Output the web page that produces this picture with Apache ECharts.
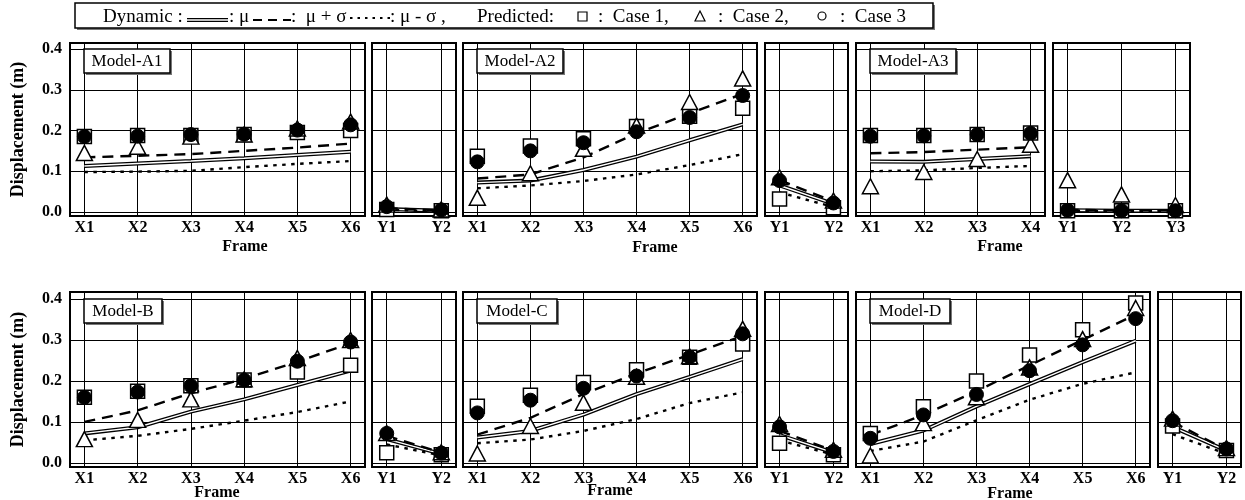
<!DOCTYPE html>
<html>
<head>
<meta charset="utf-8">
<script src="https://cdn.jsdelivr.net/npm/echarts@6/dist/echarts.min.js"></script>
<style>html,body{margin:0;padding:0;background:#fff}#c{width:1245px;height:500px}</style>
</head>
<body>
<div id="c"></div>
<script>
// ---------- categories / ticks ----------
const xCats6 = ['X1','X2','X3','X4','X5','X6'];
const xCats4 = ['X1','X2','X3','X4'];
const yCats2 = ['Y1','Y2'];
const yCats3 = ['Y1','Y2','Y3'];
const yTicks = [0, 0.1, 0.2, 0.3, 0.4];
const modelNames = ['Model-A1','Model-A2','Model-A3','Model-B','Model-C','Model-D'];

// ---------- data: mu, mu+sigma, mu-sigma, Case1, Case2, Case3 ----------
// Model-A1
const muA1X = [0.113,0.119,0.125,0.132,0.140,0.148];
const upA1X = [0.134,0.138,0.142,0.150,0.158,0.168];
const loA1X = [0.098,0.099,0.101,0.110,0.118,0.125];
const c1A1X = [0.185,0.188,0.188,0.190,0.195,0.200];
const c2A1X = [0.145,0.160,0.185,0.190,0.205,0.222];
const c3A1X = [0.185,0.186,0.190,0.191,0.201,0.214];
const muA1Y = [0.007,0.003], upA1Y = [0.009,0.004], loA1Y = [0.005,0.002];
const c1A1Y = [0.006,0.003], c2A1Y = [0.018,0.006], c3A1Y = [0.013,0.005];
// Model-A2
const muA2X = [0.072,0.077,0.103,0.136,0.176,0.215];
const upA2X = [0.082,0.092,0.134,0.193,0.242,0.290];
const loA2X = [0.058,0.065,0.076,0.092,0.115,0.142];
const c1A2X = [0.137,0.162,0.180,0.210,0.235,0.255];
const c2A2X = [0.035,0.095,0.155,0.212,0.270,0.328];
const c3A2X = [0.123,0.150,0.170,0.197,0.232,0.286];
const muA2Y = [0.065,0.020], upA2Y = [0.078,0.026], loA2Y = [0.048,0.012];
const c1A2Y = [0.032,0.010], c2A2Y = [0.085,0.028], c3A2Y = [0.077,0.022];
// Model-A3
const muA3X = [0.124,0.123,0.130,0.137];
const upA3X = [0.144,0.147,0.153,0.159];
const loA3X = [0.100,0.102,0.108,0.113];
const c1A3X = [0.188,0.188,0.190,0.194];
const c2A3X = [0.063,0.098,0.130,0.165];
const c3A3X = [0.186,0.187,0.190,0.193];
const muA3Y = [0.004,0.003,0.003], upA3Y = [0.005,0.004,0.004], loA3Y = [0.003,0.002,0.002];
const c1A3Y = [0.003,0.003,0.003], c2A3Y = [0.078,0.043,0.017], c3A3Y = [0.004,0.003,0.003];
// Model-B
const muBX = [0.072,0.087,0.125,0.155,0.190,0.225];
const upBX = [0.100,0.128,0.170,0.205,0.247,0.292];
const loBX = [0.055,0.066,0.083,0.103,0.124,0.150];
const c1BX = [0.160,0.175,0.188,0.202,0.222,0.238];
const c2BX = [0.058,0.105,0.155,0.204,0.256,0.300];
const c3BX = [0.160,0.173,0.188,0.202,0.248,0.295];
const muBY = [0.058,0.022], upBY = [0.066,0.025], loBY = [0.045,0.018];
const c1BY = [0.025,0.020], c2BY = [0.073,0.026], c3BY = [0.072,0.024];
// Model-C
const muCX = [0.062,0.078,0.118,0.168,0.210,0.253];
const upCX = [0.069,0.110,0.168,0.218,0.264,0.310];
const loCX = [0.048,0.057,0.078,0.107,0.146,0.172];
const c1CX = [0.138,0.165,0.196,0.227,0.258,0.290];
const c2CX = [0.023,0.090,0.147,0.210,0.260,0.327];
const c3CX = [0.122,0.153,0.182,0.212,0.258,0.315];
const muCY = [0.068,0.025], upCY = [0.078,0.030], loCY = [0.055,0.020];
const c1CY = [0.048,0.020], c2CY = [0.095,0.032], c3CY = [0.088,0.028];
// Model-D
const muDX = [0.046,0.079,0.138,0.192,0.246,0.298];
const upDX = [0.068,0.117,0.175,0.238,0.300,0.362];
const loDX = [0.029,0.052,0.104,0.154,0.193,0.221];
const c1DX = [0.072,0.137,0.200,0.263,0.325,0.390];
const c2DX = [0.018,0.097,0.160,0.233,0.302,0.378];
const c3DX = [0.060,0.117,0.167,0.225,0.288,0.352];
const muDY = [0.088,0.030], upDY = [0.100,0.032], loDY = [0.070,0.022];
const c1DY = [0.090,0.030], c2DY = [0.108,0.036], c3DY = [0.103,0.034];

// ---------- layout ----------
const FONT = 'Liberation Serif';
const rows = [{top:43, height:173, yMax:0.415}, {top:292, height:175, yMax:0.417}];
const panels = [
  {row:0, left:70,   width:295, cats:xCats6, d:[muA1X,upA1X,loA1X,c1A1X,c2A1X,c3A1X], yLab:true},
  {row:0, left:372,  width:84,  cats:yCats2, d:[muA1Y,upA1Y,loA1Y,c1A1Y,c2A1Y,c3A1Y]},
  {row:0, left:463,  width:294, cats:xCats6, d:[muA2X,upA2X,loA2X,c1A2X,c2A2X,c3A2X]},
  {row:0, left:765,  width:83,  cats:yCats2, d:[muA2Y,upA2Y,loA2Y,c1A2Y,c2A2Y,c3A2Y]},
  {row:0, left:856,  width:189, cats:xCats4, d:[muA3X,upA3X,loA3X,c1A3X,c2A3X,c3A3X]},
  {row:0, left:1053, width:137, cats:yCats3, d:[muA3Y,upA3Y,loA3Y,c1A3Y,c2A3Y,c3A3Y]},
  {row:1, left:70,   width:295, cats:xCats6, d:[muBX,upBX,loBX,c1BX,c2BX,c3BX], yLab:true},
  {row:1, left:372,  width:84,  cats:yCats2, d:[muBY,upBY,loBY,c1BY,c2BY,c3BY]},
  {row:1, left:463,  width:294, cats:xCats6, d:[muCX,upCX,loCX,c1CX,c2CX,c3CX]},
  {row:1, left:765,  width:83,  cats:yCats2, d:[muCY,upCY,loCY,c1CY,c2CY,c3CY]},
  {row:1, left:856,  width:294, cats:xCats6, d:[muDX,upDX,loDX,c1DX,c2DX,c3DX]},
  {row:1, left:1158, width:83,  cats:yCats2, d:[muDY,upDY,loDY,c1DY,c2DY,c3DY]}
];
const modelBoxes = [
  {x:84, y:49, w:86}, {x:477, y:49, w:86}, {x:870, y:49, w:86},
  {x:84, y:299, w:78}, {x:477, y:299, w:80}, {x:870, y:299, w:80}
];
const frameLabels = [[245,247],[655,248],[1000,247],[217,493],[610,491],[1010,494]];

const grid = [], xAxis = [], yAxis = [], series = [];
const pairs = arr => arr.map((v,i) => [i, v]);
panels.forEach((p, i) => {
  const r = rows[p.row];
  const idx = p.cats.map((c, k) => k);
  grid.push({left:p.left, top:r.top, width:p.width, height:r.height, show:true,
    borderColor:'#000', borderWidth:2, backgroundColor:'#fff', containLabel:false, outerBoundsMode:'none'});
  xAxis.push({type:'value', gridIndex:i, min:-0.27, max:p.cats.length-1+0.27,
    axisLine:{show:false}, axisTick:{show:false, customValues:idx},
    axisLabel:{customValues:idx, formatter:v => p.cats[Math.round(v)], color:'#000',
      fontFamily:FONT, fontWeight:'bold', fontSize:16, margin:4},
    splitLine:{show:true, lineStyle:{color:'#000', width:1}}});
  yAxis.push({type:'value', gridIndex:i, min:-0.01, max:r.yMax,
    axisLine:{show:false}, axisTick:{show:false, customValues:yTicks},
    axisLabel:{show:!!p.yLab, customValues:yTicks, formatter:v => v.toFixed(1), color:'#000',
      fontFamily:FONT, fontWeight:'bold', fontSize:16, margin:8},
    splitLine:{show:true, lineStyle:{color:'#000', width:1}},
    name: p.yLab ? 'Displacement (m)' : '', nameLocation:'middle', nameGap:43,
    nameTextStyle:{color:'#000', fontFamily:FONT, fontWeight:'bold', fontSize:18}});
  const [mu, up, lo, c1, c2, c3] = p.d;
  const base = {xAxisIndex:i, yAxisIndex:i, type:'line', symbol:'none', silent:true, animation:false};
  series.push(Object.assign({}, base, {data:pairs(mu), lineStyle:{color:'#000', width:4}, z:3}));
  series.push(Object.assign({}, base, {data:pairs(mu), lineStyle:{color:'#fff', width:1.4}, z:3}));
  series.push(Object.assign({}, base, {data:pairs(up), lineStyle:{color:'#000', width:2.4, type:[11,7]}, z:3}));
  series.push(Object.assign({}, base, {data:pairs(lo), lineStyle:{color:'#000', width:2.4, type:[3.5,5.5]}, z:3}));
  const sc = {xAxisIndex:i, yAxisIndex:i, type:'scatter', silent:true, animation:false};
  series.push(Object.assign({}, sc, {data:pairs(c1), symbol:'rect', symbolSize:14,
    itemStyle:{color:'#fff', borderColor:'#000', borderWidth:1.5, opacity:1}, z:4}));
  series.push(Object.assign({}, sc, {data:pairs(c2), symbol:'triangle', symbolSize:[16,15],
    itemStyle:{color:'#fff', borderColor:'#000', borderWidth:1.5, opacity:1}, z:5}));
  series.push(Object.assign({}, sc, {data:pairs(c3), symbol:'circle', symbolSize:14,
    itemStyle:{color:'#000', borderColor:'#000', borderWidth:1, opacity:1}, z:6}));
});

const graphic = [];
modelBoxes.forEach((b, i) => {
  graphic.push({type:'rect', shape:{x:b.x+2, y:b.y+2, width:b.w, height:24}, style:{fill:'#777'}, z:50});
  graphic.push({type:'rect', shape:{x:b.x, y:b.y, width:b.w, height:24}, style:{fill:'#fff', stroke:'#000', lineWidth:1.5}, z:51});
  graphic.push({type:'text', x:b.x + b.w/2, y:b.y + 13, z:52,
    style:{text:modelNames[i], fill:'#000', font:'17px "Liberation Serif"', align:'center', verticalAlign:'middle'}});
});
frameLabels.forEach(f => graphic.push({type:'text', x:f[0], y:f[1], z:52,
  style:{text:'Frame', fill:'#000', font:'bold 16px "Liberation Serif"', align:'center', verticalAlign:'middle'}}));

// legend (drawn as text + sample strokes)
const LY = 17, LF = '19px "Liberation Serif"';
graphic.push({type:'rect', shape:{x:77, y:5, width:858, height:25}, style:{fill:'#777'}, z:39});
graphic.push({type:'rect', shape:{x:75, y:3, width:858, height:25}, style:{fill:'#fff', stroke:'#000', lineWidth:1.5}, z:40});
const lt = (x, s) => graphic.push({type:'text', x:x, y:LY, z:42, style:{text:s, fill:'#000', font:LF, verticalAlign:'middle'}});
lt(103, 'Dynamic :');
graphic.push({type:'line', shape:{x1:187, y1:LY+3, x2:228, y2:LY+3}, style:{stroke:'#000', lineWidth:4}, z:41});
graphic.push({type:'line', shape:{x1:187, y1:LY+3, x2:228, y2:LY+3}, style:{stroke:'#fff', lineWidth:1.4}, z:41});
lt(229, ': μ');
graphic.push({type:'line', shape:{x1:253, y1:LY+3, x2:291, y2:LY+3}, style:{stroke:'#000', lineWidth:2.2, lineDash:[9,6]}, z:41});
lt(291, ':  μ + σ');
graphic.push({type:'line', shape:{x1:350, y1:LY+1, x2:390, y2:LY+1}, style:{stroke:'#000', lineWidth:2.2, lineDash:[2.5,5]}, z:41});
lt(390, ': μ - σ ,');
lt(477, 'Predicted:');
graphic.push({type:'rect', shape:{x:578, y:LY-5, width:9, height:9}, style:{fill:'#fff', stroke:'#000', lineWidth:1.2}, z:41});
lt(598, ':  Case 1,');
graphic.push({type:'polygon', shape:{points:[[700,LY-6],[695,LY+4],[705,LY+4]]}, style:{fill:'#fff', stroke:'#000', lineWidth:1.2}, z:41});
lt(718, ':  Case 2,');
graphic.push({type:'circle', shape:{cx:822, cy:LY-1, r:4}, style:{fill:'#fff', stroke:'#000', lineWidth:1.2}, z:41});
lt(840, ':  Case 3');

const chart = echarts.init(document.getElementById('c'), null, {renderer:'canvas'});
chart.setOption({animation:false, backgroundColor:'#fff', grid, xAxis, yAxis, series, graphic});
</script>
</body>
</html>
